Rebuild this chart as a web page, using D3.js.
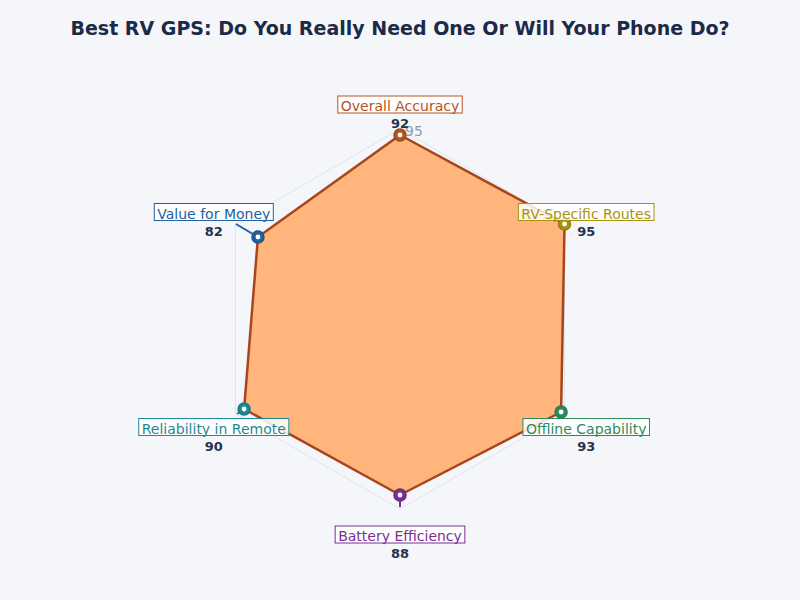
<!DOCTYPE html>
<html lang="en">
<head>
    <meta charset="UTF-8">
    <title>Best RV GPS</title>
    <style>
        body { margin: 0; background: #f4f6fa; }
        svg { display: block; font-family: "DejaVu Sans", sans-serif; }
    </style>
</head>
<body>
    <div id="chart"></div>
    <script src="https://d3js.org/d3.v7.min.js"></script>
    <script>
        // chart data
        var categories = ["Overall Accuracy", "RV-Specific Routes", "Offline Capability",
                          "Battery Efficiency", "Reliability in Remote", "Value for Money"];
        var scores = [92, 95, 93, 88, 90, 82];
        var catColors = ["#b5541f", "#a8930f", "#2e8a5c", "#7a2f93", "#1c8a96", "#2461a0"];
        var gridTicks = [95];

        var width = 800, height = 600;
        var cx = 400, cy = 319;

        var svg = d3.select("#chart").append("svg")
            .attr("width", width)
            .attr("height", height);

        svg.append("rect")
            .attr("width", width).attr("height", height)
            .attr("fill", "#f4f6fa");

        // radius scale: 0..100 -> 0..200px
        var r = d3.scaleLinear().domain([0, 100]).range([0, 200]);
        var angle = d3.scalePoint().domain(categories).range([0, 2 * Math.PI * 5 / 6]);

        function pt(cat, v) {
            var a = angle(cat);
            return [cx + r(v) * Math.sin(a), cy - r(v) * Math.cos(a)];
        }

        var g = svg.append("g");

        // grid hexagon
        gridTicks.forEach(function(t) {
            g.append("polygon")
                .attr("points", categories.map(function(c) { return pt(c, t).join(","); }).join(" "))
                .attr("fill", "none")
                .attr("stroke", "#dfe4ec")
                .attr("stroke-width", 1);
        });
        // spokes
        categories.forEach(function(c) {
            var p = pt(c, d3.max(gridTicks));
            g.append("line")
                .attr("x1", cx).attr("y1", cy)
                .attr("x2", p[0]).attr("y2", p[1])
                .attr("stroke", "#dfe4ec");
        });

        // filled area
        var line = d3.lineRadial()
            .angle(function(d, i) { return angle(categories[i]); })
            .radius(function(d) { return r(d); })
            .curve(d3.curveLinearClosed);

        g.append("path")
            .attr("transform", "translate(" + cx + "," + cy + ")")
            .attr("d", line(scores))
            .attr("fill", "#ffb57c")
            .attr("stroke", "#a8461b")
            .attr("stroke-width", 2.5)
            .attr("stroke-linejoin", "round");

        // radial tick label
        gridTicks.forEach(function(t) {
            g.append("text")
                .attr("x", cx + 5)
                .attr("y", cy - r(t) + 7)
                .attr("fill", "#8c9bb4")
                .style("font-size", "14px")
                .text(t);
        });

        // annotation stubs (from point toward its label)
        var stubs = [[0, 0], [0, 0], [0, 0], [0, 12], [-7, 5], [-22, -13]];
        categories.forEach(function(c, i) {
            var p = pt(c, scores[i]);
            if (stubs[i][0] === 0 && stubs[i][1] === 0) return;
            g.append("line")
                .attr("x1", p[0]).attr("y1", p[1])
                .attr("x2", p[0] + stubs[i][0]).attr("y2", p[1] + stubs[i][1])
                .attr("stroke", catColors[i])
                .attr("stroke-width", 2);
        });

        // markers
        categories.forEach(function(c, i) {
            var p = pt(c, scores[i]);
            g.append("circle")
                .attr("cx", p[0]).attr("cy", p[1]).attr("r", 6)
                .attr("fill", catColors[i])
                .attr("stroke", d3.color(catColors[i]).darker(0.4))
                .attr("stroke-width", 1.5);
            g.append("circle")
                .attr("cx", p[0]).attr("cy", p[1]).attr("r", 2.4)
                .attr("fill", "#ffffff");
        });

        // labels with boxed category name and bold score beneath
        categories.forEach(function(c, i) {
            var p = pt(c, 107.5);
            var lab = g.append("text")
                .attr("x", p[0]).attr("y", p[1] + 7)
                .attr("text-anchor", "middle")
                .attr("fill", catColors[i])
                .style("font-size", "14px")
                .text(c);
            var bb = lab.node().getBBox();
            g.insert("rect", function() { return lab.node(); })
                .attr("x", bb.x - 3).attr("y", p[1] - 8)
                .attr("width", bb.width + 6).attr("height", 17)
                .attr("fill", "#ffffff").attr("fill-opacity", 0.85)
                .attr("stroke", catColors[i]).attr("stroke-width", 1);
            g.append("text")
                .attr("x", p[0]).attr("y", p[1] + 24)
                .attr("text-anchor", "middle")
                .attr("fill", "#27324d")
                .style("font-size", "13px")
                .style("font-weight", "bold")
                .text(scores[i]);
        });

        // title
        svg.append("text")
            .attr("x", width / 2).attr("y", 35)
            .attr("text-anchor", "middle")
            .attr("fill", "#1b2a47")
            .style("font-size", "19px")
            .style("font-weight", "bold")
            .text("Best RV GPS: Do You Really Need One Or Will Your Phone Do?");
    </script>
</body>
</html>
